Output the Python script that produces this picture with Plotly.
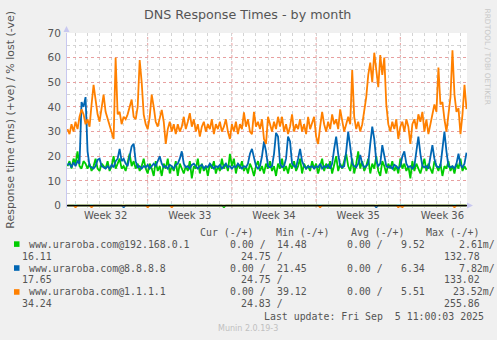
import numpy as np
import pandas as pd
import plotly.graph_objects as go

# ---------------------------------------------------------------------------
# Data: 4-hour averages of DNS response time (ms) for three resolvers
# ---------------------------------------------------------------------------
start = pd.Timestamp("2025-08-04 08:00")
step_hours = 4

resp_192_168_0_1 = [
    16, 18, 15, 19, 17, 22, 16, 15, 18, 17,
    15, 17, 14, 16, 19, 15, 14, 17, 16, 15,
    18, 14, 16, 20, 15, 17, 19, 15, 16, 14,
    17, 21, 16, 18, 15, 17, 14, 16, 19, 15,
    13, 17, 15, 12, 18, 14, 16, 12, 17, 15,
    19, 13, 16, 14, 18, 12, 17, 15, 13, 16,
    14, 18, 11, 16, 15, 19, 13, 17, 14, 16,
    12, 17, 15, 18, 13, 16, 14, 19, 15, 17,
    14, 21, 16, 19, 13, 17, 15, 18, 14, 16,
    13, 17, 15, 12, 16, 18, 14, 16, 13, 17,
    15, 18, 14, 16, 12, 17, 15, 19, 14, 16,
    13, 17, 15, 18, 14, 16, 19, 13, 17, 15,
    16, 14, 18, 15, 17, 13, 16, 19, 14, 17,
    15, 18, 13, 16, 20, 14, 17, 15, 18, 21,
    16, 14, 19, 13, 17, 22, 15, 18, 14, 16,
    19, 13, 17, 15, 20, 14, 12, 18, 16, 13,
    17, 15, 18, 14, 16, 13, 19, 15, 17, 14,
    16, 11, 18, 14, 17, 15, 13, 16, 19, 14,
    17, 15, 13, 18, 16, 14, 17, 12, 16, 15,
    18, 14, 16, 13, 17, 15, 19, 14, 16, 14.5,
]

resp_8_8_8_8 = [
    16.5, 17, 15.5, 17.5, 16, 18, 17, 42, 40, 44,
    22, 16, 15.5, 15, 16, 18.5, 19, 16, 15.5, 15,
    16, 15, 16.5, 15.5, 18, 19, 23, 18, 19, 17,
    16, 20, 24, 25, 18, 15.5, 16, 15, 16, 15.5,
    16.5, 15, 16, 17, 16, 18, 20, 17, 15.5, 16,
    15, 16.5, 16, 15, 16.5, 17, 19, 22, 17, 15.5,
    16, 15, 16.5, 17, 16, 15, 16, 16.5, 15, 16,
    15.5, 17, 16, 15, 16, 15.5, 16.5, 15, 16, 17,
    15.5, 16, 15, 16, 15.5, 17, 16, 15, 16, 15.5,
    17, 21, 23, 19, 16, 15, 16, 20, 26, 22,
    16, 15.5, 16, 21, 29.5, 28, 17, 15.5, 16, 19,
    28, 26, 17, 16, 15.5, 19, 23, 18, 16, 15,
    16, 15.5, 16, 15, 16, 15.5, 17, 15, 16, 15.5,
    16.5, 15, 17, 23, 28, 21, 16, 15.5, 16, 22,
    30, 24, 17, 16, 15.5, 17, 20.5, 17, 15.5, 16,
    17, 25, 32, 27, 18, 16, 17, 24.5, 20, 16,
    15.5, 16, 15, 16.5, 16, 15, 16, 20, 22, 17,
    15.5, 16, 15, 16, 22, 28, 21, 16, 15.5, 16,
    15, 19, 24.5, 19, 16, 15.5, 16, 23, 30, 22,
    16, 15.5, 16, 15, 17, 21, 16.5, 15.5, 17, 21.45,
]

resp_1_1_1_1 = [
    31, 29, 33, 30, 34, 31, 36, 39, 37, 33,
    35, 32, 41, 49, 43, 37, 34, 40, 45, 38,
    35, 33, 30, 27, 60, 37, 38, 33, 36, 35,
    37, 40, 43, 36, 35, 40, 59, 50, 37, 33,
    31, 36, 45, 40, 34, 32, 35, 38.8, 34, 25,
    31, 34, 30, 33, 29, 33, 30, 32, 36, 31,
    34, 37.5, 32, 35, 30, 33, 28, 32, 34, 30,
    33, 31, 35, 29, 33, 31, 34, 30, 32, 35,
    30, 27, 33, 30, 34, 29, 33, 31, 37.8, 32,
    35, 30, 29, 38, 32, 34, 31, 35, 27, 25,
    36, 33, 30, 34, 31, 36, 32, 36, 30, 33,
    29, 32, 37, 30, 33, 31, 35, 30, 33, 29,
    36, 31, 34, 36, 28, 25, 32, 38, 33, 30,
    34, 31, 37, 33, 35, 31, 39, 34, 30, 33,
    36, 33, 55, 36, 31, 34, 30, 33, 39, 44,
    53, 58, 50, 62, 55, 48, 61, 53, 60, 41,
    33, 30, 34, 31, 35, 27, 32, 34, 30, 35,
    32, 25, 33, 35, 31, 37, 34, 38, 30, 35,
    29, 33, 36, 41, 38, 56, 41, 42, 35, 30,
    37, 44, 63, 45, 38, 39.5, 29, 37, 49, 39.12,
]

# Packet loss (%) — plotted on the negative side
loss_192_168_0_1_idx = [78]
loss_192_168_0_1_pct = [0.8]
loss_8_8_8_8_idx = [28, 154]
loss_8_8_8_8_pct = [0.8, 0.8]
loss_1_1_1_1_idx = [4, 12, 40, 52, 126, 165, 167, 193]
loss_1_1_1_1_pct = [0.8, 0.8, 0.8, 0.8, 0.8, 0.8, 0.8, 0.8]

series_names = ["www.uraroba.com@192.168.0.1", "www.uraroba.com@8.8.8.8", "www.uraroba.com@1.1.1.1"]
series_colors = ["#00CC00", "#0066B3", "#FF8000"]

# Legend statistics: (-/+) = loss % / response ms
stat_cur = [("0.00", "14.48"), ("0.00", "21.45"), ("0.00", "39.12")]
stat_min = [("0.00", "9.52"), ("0.00", "6.34"), ("0.00", "5.51")]
stat_avg = [("2.61m", "16.11"), ("7.82m", "17.65"), ("23.52m", "34.24")]
stat_max = [("24.75", "132.78"), ("24.75", "133.02"), ("24.83", "255.86")]

week_labels = ["Week 32", "Week 33", "Week 34", "Week 35", "Week 36"]
week_starts = ["2025-08-04", "2025-08-11", "2025-08-18", "2025-08-25", "2025-09-01"]
x_range = ["2025-08-04 07:00", "2025-09-06 13:00"]

# ---------------------------------------------------------------------------
W, H = 497, 340
ML, MR, MT, MB = 67, 30, 33, 131.5
PW, PH = W - ML - MR, H - MT - MB


def px(x):
    return (x - ML) / PW


def py(y):
    return (H - MB - y) / PH


n = len(resp_1_1_1_1)
times = start + pd.to_timedelta(np.arange(n) * step_hours, unit="h")


def loss_series(idx, pct):
    arr = np.zeros(n)
    arr[idx] = pct
    return -arr


losses = [
    loss_series(loss_192_168_0_1_idx, loss_192_168_0_1_pct),
    loss_series(loss_8_8_8_8_idx, loss_8_8_8_8_pct),
    loss_series(loss_1_1_1_1_idx, loss_1_1_1_1_pct),
]
responses = [resp_192_168_0_1, resp_8_8_8_8, resp_1_1_1_1]

fig = go.Figure()
for name, color, loss in zip(series_names, series_colors, losses):
    fig.add_trace(go.Scatter(x=times, y=loss, mode="lines", name=name,
                             line=dict(color=color, width=1.5), showlegend=False,
                             hoverinfo="skip"))
for name, color, resp in zip(series_names, series_colors, responses):
    fig.add_trace(go.Scatter(x=times, y=resp, mode="lines", name=name,
                             line=dict(color=color, width=1.8), showlegend=False))

# week boundaries (major vertical grid)
for ws in week_starts[1:]:
    fig.add_vline(x=pd.Timestamp(ws), line=dict(color="#E8A0A0", width=1, dash="dot"),
                  layer="below")
# zero line
fig.add_hline(y=0, line=dict(color="#000000", width=1.2), layer="above")

week_mid = [pd.Timestamp(ws) + pd.Timedelta(hours=84) for ws in week_starts]
grid_font = dict(family="DejaVu Sans", size=10, color="#555555")

fig.update_layout(
    width=W, height=H,
    margin=dict(l=ML, r=MR, t=MT, b=MB, pad=0),
    paper_bgcolor="#F0F0F0", plot_bgcolor="#FFFFFF",
    showlegend=False,
    xaxis=dict(
        type="date", range=x_range,
        tickmode="array", tickvals=week_mid, ticktext=week_labels,
        showgrid=False, zeroline=False, ticks="", showline=False,
        tickfont=grid_font,
        minor=dict(tickmode="linear", tick0="2025-08-04", dtick=86400000,
                   showgrid=True, gridcolor="#D4D4D4", griddash="dot", gridwidth=1),
    ),
    yaxis=dict(
        range=[-1, 70], tickmode="linear", tick0=0, dtick=10,
        showgrid=True, gridcolor="#E8A0A0", griddash="dot", gridwidth=1,
        zeroline=False, ticks="", ticklabelstandoff=3,
        showline=True, linecolor="#C8C8F0", linewidth=1,
        tickfont=dict(family="DejaVu Sans", size=10.5, color="#555555"),
        minor=dict(tick0=5, dtick=10, showgrid=True, gridcolor="#D4D4D4",
                   griddash="dot", gridwidth=1),
    ),
)

# axis arrows
arrow_col = "#C8C8F0"
fig.add_shape(type="path", xref="paper", yref="paper",
              path=f"M {px(63.5)} {py(32)} L {px(69.5)} {py(32)} L {px(66.5)} {py(26)} Z",
              fillcolor=arrow_col, line=dict(width=0))
fig.add_shape(type="path", xref="paper", yref="paper",
              path=f"M {px(467)} {py(203)} L {px(467)} {py(209)} L {px(473)} {py(206)} Z",
              fillcolor=arrow_col, line=dict(width=0))

ann = []
ann.append(dict(text="DNS Response Times - by month", x=px(247.5), y=py(14),
                font=dict(family="DejaVu Sans", size=12.7, color="#555555"),
                xanchor="center", yanchor="middle"))
ann.append(dict(text="Response time (ms) (+ve) / % lost (-ve)", x=px(11), y=py(120),
                textangle=-90, font=dict(family="DejaVu Sans", size=11, color="#555555"),
                xanchor="center", yanchor="middle"))
ann.append(dict(text="RRDTOOL / TOBI OETIKER", x=px(488), y=py(56.5),
                textangle=90, font=dict(family="DejaVu Sans", size=7.5, color="#C8C8C8"),
                xanchor="center", yanchor="middle"))

mono = dict(family="DejaVu Sans Mono", size=9.9, color="#555555")


def txt(s, x, y, anchor="left", font=mono):
    ann.append(dict(text=s, x=px(x), y=py(y), xanchor=anchor, yanchor="middle", font=font))


txt("Cur (-/+)", 197.7, 232.7)
txt("Min (-/+)", 274, 232.7)
txt("Avg (-/+)", 349, 232.7)
txt("Max (-/+)", 423.7, 232.7)

row_y = [244.7, 268.7, 292.7]
for k in range(3):
    y1 = row_y[k]
    y2 = y1 + 12
    fig.add_shape(type="rect", xref="paper", yref="paper",
                  x0=px(14), x1=px(19.5), y0=py(y1 - 2.8), y1=py(y1 + 2.8),
                  fillcolor=series_colors[k], line=dict(width=0))
    txt(series_names[k], 26.7, y1)
    # the stat columns wrap onto a second line
    txt(stat_cur[k][0] + " /", 227.7, y1)
    txt(stat_cur[k][1], 275, y1)
    txt(stat_min[k][0] + " /", 345, y1)
    txt(stat_min[k][1], 399, y1)
    txt(stat_avg[k][0] + "/", 497, y1, anchor="right")
    txt(stat_avg[k][1], 20.3, y2)
    txt(stat_max[k][0] + " /", 239, y2)
    txt(stat_max[k][1], 441.7, y2)

txt("Last update: Fri Sep  5 11:00:03 2025", 261.7, 317.3)
txt("Munin 2.0.19-3", 248, 329, anchor="center",
    font=dict(family="DejaVu Sans", size=8, color="#C0C0C0"))

for a in ann:
    a.update(xref="paper", yref="paper", showarrow=False)
fig.update_layout(annotations=ann)

fig.write_html("out.html")
